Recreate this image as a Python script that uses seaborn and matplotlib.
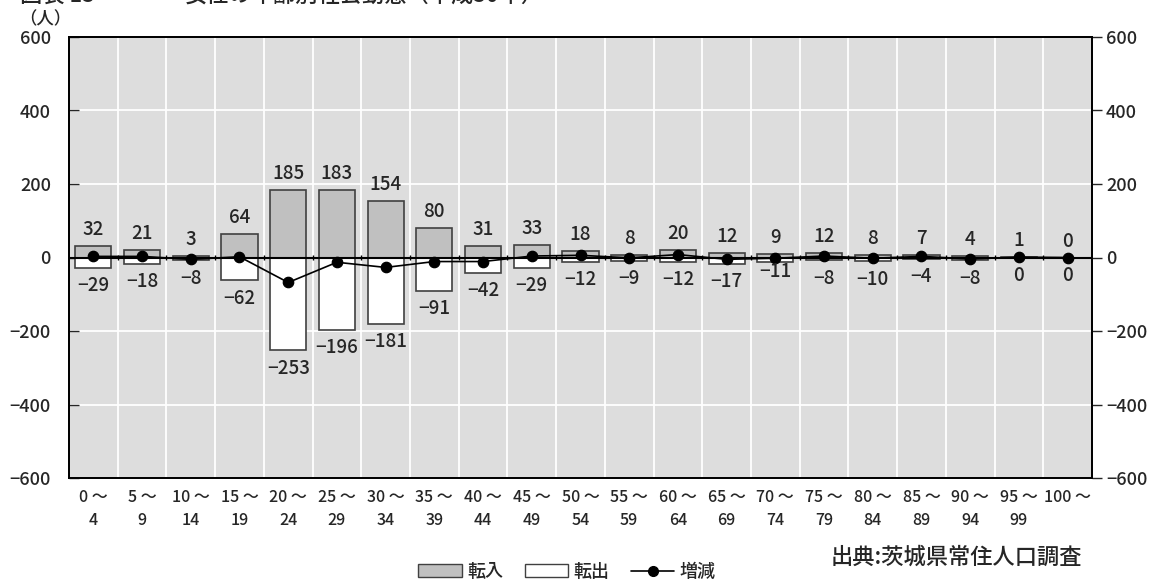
import numpy as np
import pandas as pd
import matplotlib
matplotlib.use("Agg")
import matplotlib.pyplot as plt
from matplotlib.patches import Patch
from matplotlib.lines import Line2D
import seaborn as sns

# --- data ---
age_from = ["0", "5", "10", "15", "20", "25", "30", "35", "40", "45", "50",
            "55", "60", "65", "70", "75", "80", "85", "90", "95", "100"]
age_to = ["4", "9", "14", "19", "24", "29", "34", "39", "44", "49", "54",
          "59", "64", "69", "74", "79", "84", "89", "94", "99", ""]
moved_in = [32, 21, 3, 64, 185, 183, 154, 80, 31, 33, 18, 8, 20, 12, 9, 12, 8, 7, 4, 1, 0]
moved_out = [-29, -18, -8, -62, -253, -196, -181, -91, -42, -29, -12, -9, -12, -17,
             -11, -8, -10, -4, -8, 0, 0]
y_ticks = [-600, -400, -200, 0, 200, 400, 600]

ages = [f"{a}～{b}" for a, b in zip(age_from, age_to)]
net = [i + o for i, o in zip(moved_in, moved_out)]
df = pd.DataFrame({"age": ages, "in": moved_in, "out": moved_out, "net": net})

# --- style ---
sns.set_style("white")
plt.rcParams["font.family"] = ["Noto Sans CJK JP", "DejaVu Sans"]
plt.rcParams["font.weight"] = "medium"
plt.rcParams["axes.unicode_minus"] = True

BG = "#dddddd"
IN_COLOR = "#c0c0c0"
EDGE = "#404040"

fig = plt.figure(figsize=(11.59, 5.83), dpi=100)
ax = fig.add_axes([69 / 1159, 1 - 478 / 583, (1092 - 69) / 1159, (478 - 37) / 583])
ax.set_facecolor(BG)

sns.barplot(data=df, x="age", y="in", color=IN_COLOR, edgecolor=EDGE, linewidth=1.2,
            width=0.74, saturation=1, ax=ax, zorder=2)
sns.barplot(data=df, x="age", y="out", color="white", edgecolor=EDGE, linewidth=1.2,
            width=0.74, saturation=1, ax=ax, zorder=2)
ax.axhline(0, color="black", lw=1.5, zorder=3)
sns.pointplot(data=df, x="age", y="net", color="black", markers="o", markersize=7.5,
              linewidth=1.2, errorbar=None, ax=ax, zorder=4)

n = len(ages)
ax.set_xlim(-0.5, n - 0.5)
ax.set_ylim(-600, 600)
ax.set_xlabel("")
ax.set_ylabel("")

# grid: white lines at y ticks and at category boundaries
ax.set_yticks(y_ticks)
ax.set_xticks(np.arange(0.5, n - 1, 1), minor=True)
ax.grid(axis="y", which="major", color="white", lw=1.3, zorder=0)
ax.grid(axis="x", which="minor", color="white", lw=1.3, zorder=0)
ax.set_axisbelow(True)
# small cross ticks on the zero axis
ax.vlines(np.arange(0.5, n - 1, 1), -7, 7, color="black", lw=1, zorder=3)

ax.set_xticks(np.arange(n))
ax.set_xticklabels([f"{a} ～\n{b}" for a, b in zip(age_from, age_to)],
                   fontsize=11.5, linespacing=1.45)
ax.tick_params(axis="x", which="both", length=0, pad=8)
ax.tick_params(axis="y", direction="in", length=7, width=1, labelsize=13, pad=13)
for s in ax.spines.values():
    s.set_color("black")
    s.set_linewidth(1.3)

ax2 = ax.twinx()
ax2.set_ylim(-600, 600)
ax2.set_yticks(y_ticks)
ax2.tick_params(axis="y", direction="out", length=7, width=1, labelsize=13, pad=3)
for s in ax2.spines.values():
    s.set_color("black")
    s.set_linewidth(1.3)

# data labels
fmt = lambda v: str(v).replace("-", "−")
for i, (vi, vo) in enumerate(zip(moved_in, moved_out)):
    ax.annotate(fmt(vi), (i, vi), xytext=(0, 5), textcoords="offset points",
                ha="center", va="bottom", fontsize=13.5, zorder=5)
    off = 0 if i == 14 else -6
    ax.annotate(fmt(vo), (i, vo), xytext=(0, off), textcoords="offset points",
                ha="center", va="top", fontsize=13.5, zorder=5)

# unit, title (cut off at top), source
fig.text(19 / 1159, 1 - 19 / 583, "（人）", fontsize=12.5, va="center", ha="left")
fig.text(20 / 1159, 1 - 2 / 583, "図表 13", fontsize=16, va="baseline", ha="left")
fig.text(185 / 1159, 1 - 2 / 583, "女性の年齢別社会動態（平成30年）", fontsize=16,
         va="baseline", ha="left")
fig.text(1082 / 1159, 1 - 557 / 583, "出典:茨城県常住人口調査", fontsize=16,
         va="center", ha="right")

handles = [Patch(facecolor=IN_COLOR, edgecolor=EDGE, lw=1),
           Patch(facecolor="white", edgecolor=EDGE, lw=1),
           Line2D([], [], color="black", marker="o", markersize=7, lw=1.2)]
fig.legend(handles, ["転入", "転出", "増減"], loc="center",
           bbox_to_anchor=(567 / 1159, 1 - 572 / 583), ncol=3, frameon=False,
           fontsize=13, handlelength=2.4, handletextpad=0.3, columnspacing=1.2)

fig.savefig("out.png", dpi=100)
